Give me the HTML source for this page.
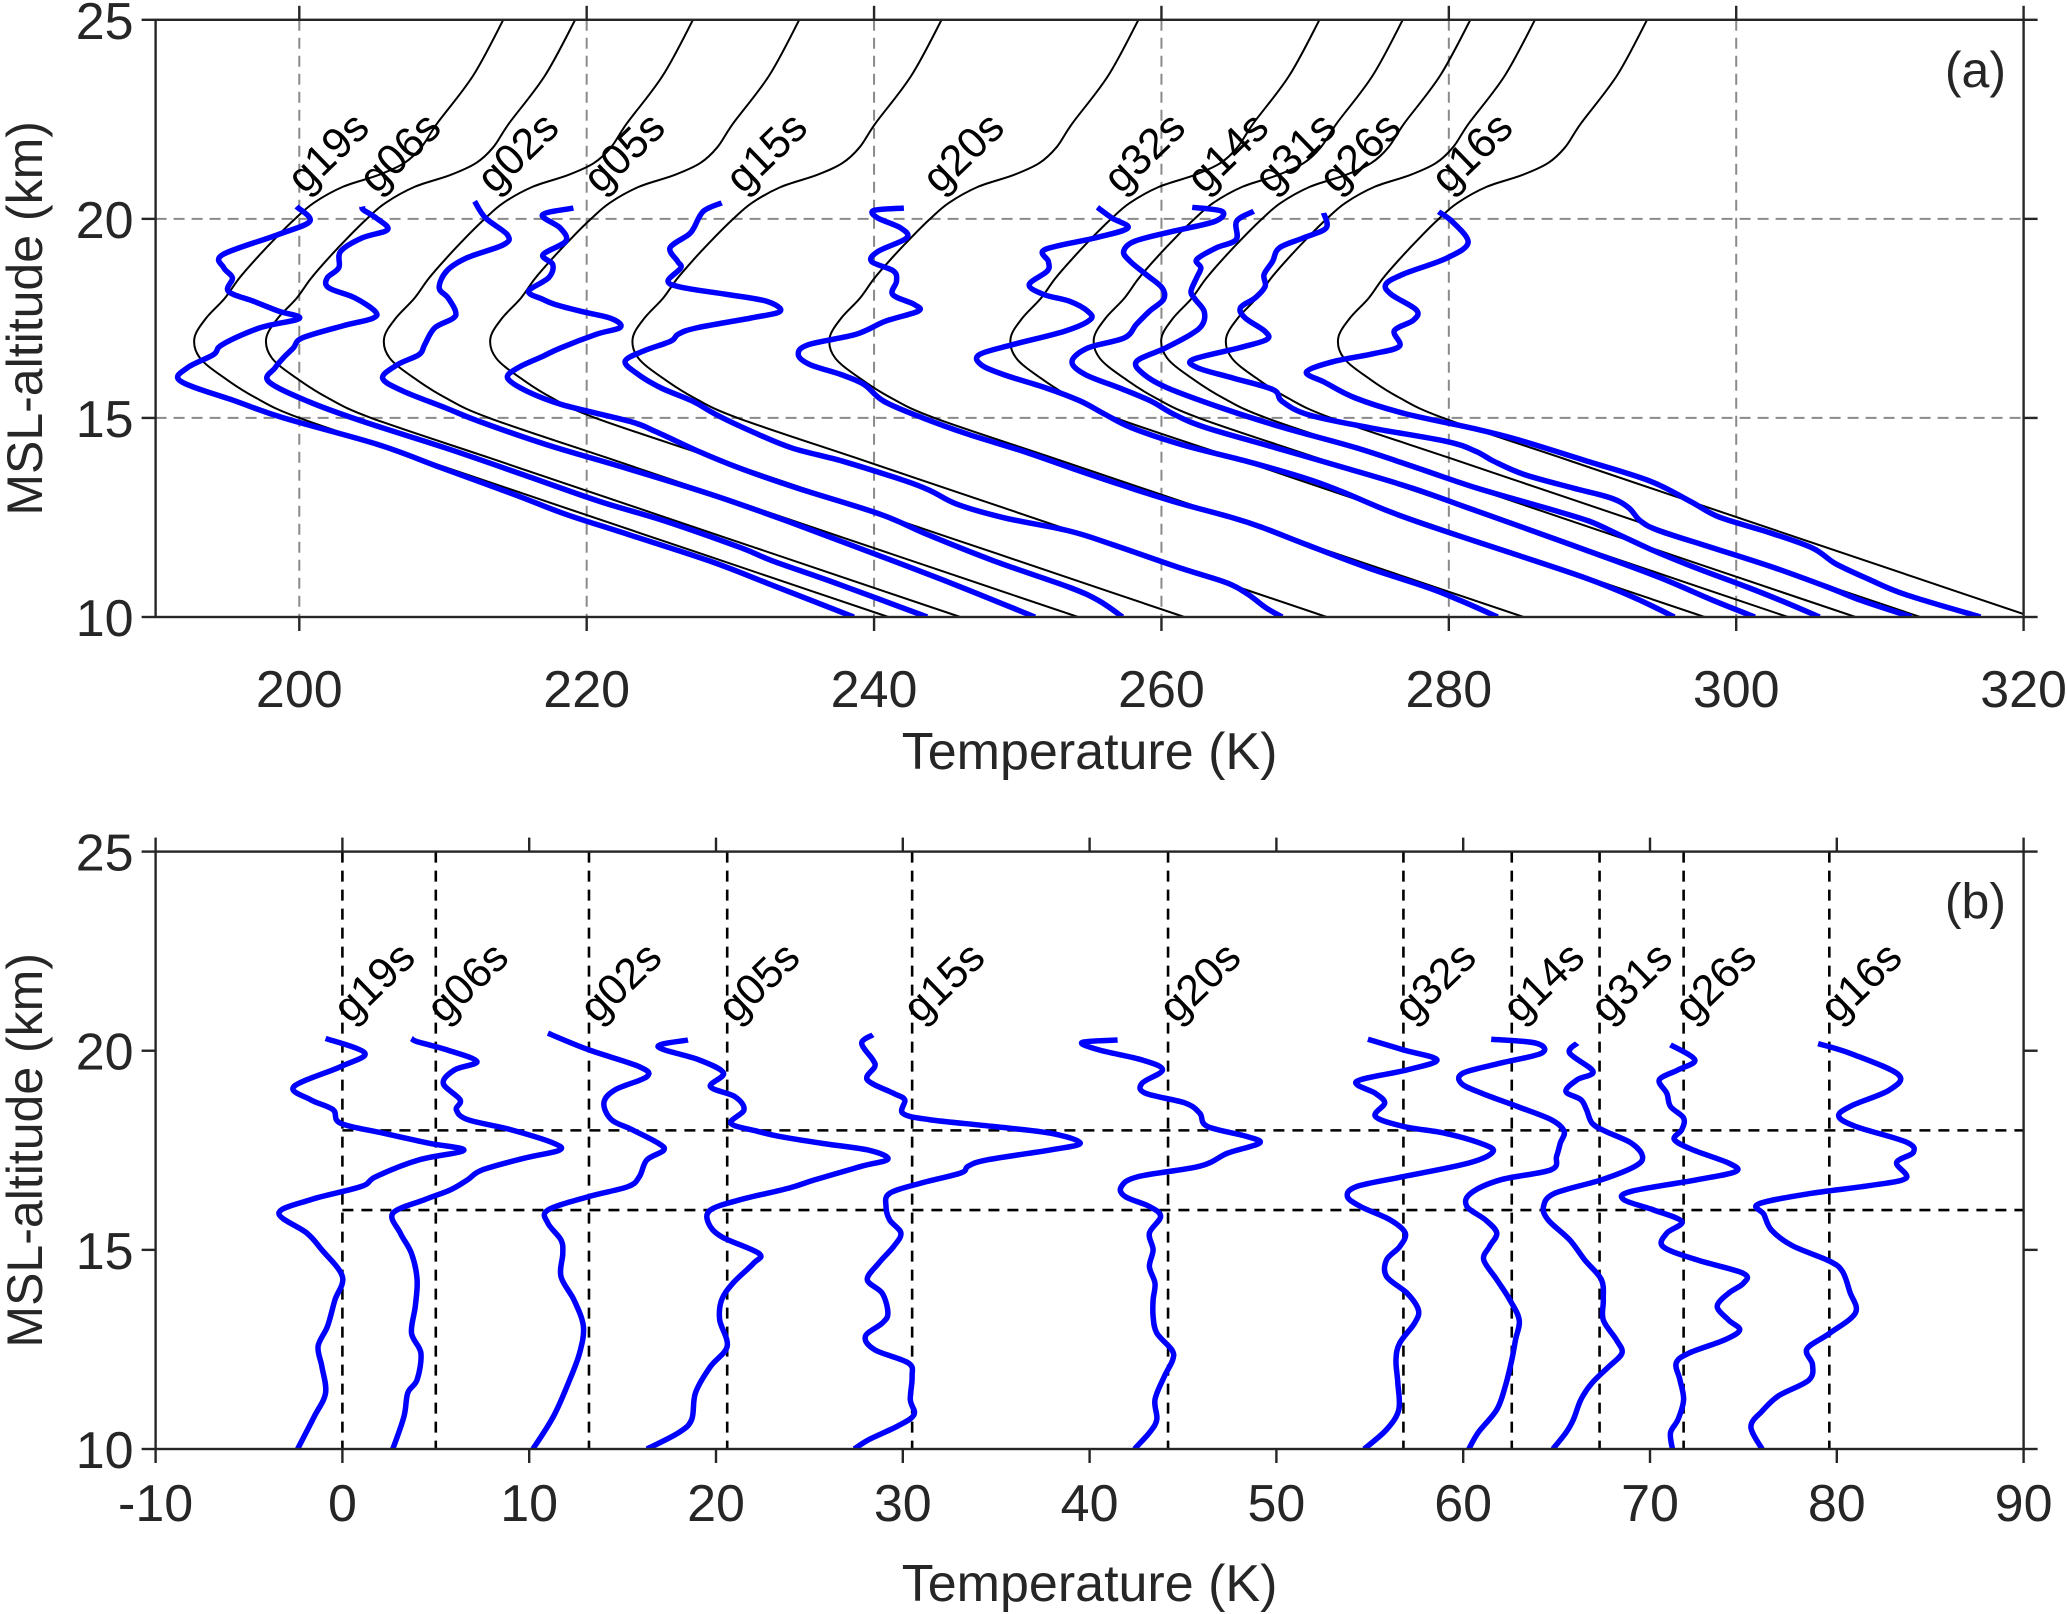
<!DOCTYPE html>
<html><head><meta charset="utf-8"><title>Temperature profiles</title>
<style>
html,body{margin:0;padding:0;background:#fff;}
svg{display:block;font-family:"Liberation Sans",Arial,sans-serif;}
</style></head>
<body>
<svg id="chart" xmlns="http://www.w3.org/2000/svg" width="2067" height="1614" viewBox="0 0 2067 1614">
<rect x="0" y="0" width="2067" height="1614" fill="#fff"/>
<defs>
<clipPath id="clipA"><rect x="155.6" y="19.8" width="1868" height="597.2"/></clipPath>
<clipPath id="clipB"><rect x="155.6" y="851.6" width="1868" height="597.4"/></clipPath>
</defs>
<g id="panelA"></g>
<g id="panelB"></g>
</svg>
<script>
// ---- data ----
const profileNames = ["g19s","g06s","g02s","g05s","g15s","g20s","g32s","g14s","g31s","g26s","g16s"];
const profileOffsets = [0, 5, 13.2, 20.6, 30.5, 44.2, 56.8, 62.6, 67.3, 71.8, 79.6];
const baseAlt  = [10, 11, 12, 13, 14, 15, 15.5, 16, 16.5, 17, 17.5, 18, 18.5, 19, 19.5, 20, 20.4, 20.8, 21.1, 21.4, 21.8, 22.4, 23.6, 25];
const baseTemp = [241, 232.8, 224.6, 216.4, 208.2, 200, 197, 194.8, 193.1, 192.7, 193.5, 194.8, 195.8, 197, 198.3, 199.7, 201, 203, 205.5, 207.3, 208.5, 209.6, 212.1, 214.2];
const anomG19s = [[20.31,-0.9],[19.94,1.2],[19.6,-0.1],[19.1,-2.6],[18.77,-1.7],[18.52,-0.5],[18.18,-0.1],[17.93,2.2],[17.68,4.6],[17.5,6.5],[17.26,4.1],[16.84,1.8],[16.59,1.0],[16.26,-1.7],[15.92,-3.4],[15.42,-1.9],[15.0,-1.1],[14.33,0],[13.74,-0.4],[13.08,-0.8],[12.58,-1.3],[12.07,-1.1],[11.41,-0.9],[10.82,-1.5],[10.0,-2.4]];
const anomG06s = [[20.31,-1.3],[20.23,-1.0],[20.02,0.6],[19.73,2.2],[19.52,1.0],[19.18,0.4],[18.77,1.3],[18.52,1.1],[18.27,1.7],[18.02,4.0],[17.68,6.3],[17.5,6.6],[17.31,4.8],[17.01,2.5],[16.76,1.7],[16.51,0.8],[16.26,-0.6],[15.92,-2.3],[15.42,-1.9],[14.91,-1.3],[14.25,-1.0],[13.58,-1.1],[12.91,-1.3],[12.41,-0.8],[11.74,-1.0],[11.41,-1.5],[10.82,-1.7],[10.0,-2.3]];
const anomG02s = [[20.44,-2.2],[20.02,0],[19.6,2.7],[19.35,3.1],[19.02,1.4],[18.69,0.8],[18.27,1.2],[18.02,2.3],[17.68,3.7],[17.5,4.0],[17.26,3.1],[16.84,2.7],[16.59,2.1],[16.34,0],[16.0,-2.2],[15.67,-2.2],[15.25,-1.5],[14.91,-1.4],[14.33,-1.5],[13.74,-0.8],[13.08,-0.3],[12.41,-0.5],[11.66,-1.1],[10.82,-1.9],[10.0,-3.0]];
const anomG05s = [[20.27,-2.1],[20.1,-3.7],[19.77,-1.5],[19.44,-0.2],[19.1,-0.9],[18.85,0.4],[18.52,0.9],[18.18,0.2],[17.98,1.6],[17.85,2.8],[17.68,5.0],[17.5,7.6],[17.28,8.6],[17.1,7.2],[16.76,4.7],[16.55,3.3],[16.26,0.7],[16.0,-0.9],[15.67,-1.0],[15.33,-0.3],[14.91,1.7],[14.66,1.4],[14.16,0.3],[13.74,-0.3],[13.24,-0.4],[12.58,0],[12.07,-0.9],[11.41,-1.7],[10.74,-1.9],[10.41,-2.6],[10.0,-4.3]];
const anomG15s = [[20.4,-2.1],[20.19,-2.7],[19.77,-2.1],[19.6,-2.0],[19.27,-2.4],[18.93,-1.0],[18.77,-0.4],[18.43,-0.5],[18.27,0.9],[18.1,4.3],[17.93,7.4],[17.68,9.0],[17.51,7.4],[17.26,4.0],[17.1,3.0],[16.93,2.6],[16.68,0.5],[16.42,-1.2],[16.09,-1.4],[15.75,-1.2],[15.42,-0.6],[15.08,-1.0],[14.66,-1.8],[14.25,-2.4],[13.91,-1.6],[13.41,-1.3],[13.16,-1.6],[12.83,-2.5],[12.49,-2.0],[12.16,-0.2],[11.82,0],[11.24,-0.1],[10.86,0.1],[10.57,-0.8],[10.24,-2.3],[10.0,-3.1]];
const anomG20s = [[20.27,-2.7],[20.21,-4.6],[20.02,-3.7],[19.77,-1.4],[19.52,-0.3],[19.18,-1.4],[18.93,-1.2],[18.69,0.9],[18.43,1.7],[18.1,2.1],[17.85,4.2],[17.68,4.9],[17.43,3.2],[17.1,1.7],[16.84,-1.6],[16.59,-2.5],[16.34,-2.3],[16.09,-1.0],[15.84,-0.4],[15.42,-1.0],[15.0,-0.8],[14.58,-1.0],[14.16,-0.7],[13.74,-0.8],[13.33,-0.8],[12.91,-0.6],[12.49,0.2],[12.24,0.25],[11.82,-0.2],[11.24,-0.7],[10.74,-0.6],[10.41,-1.0],[10.0,-1.8]];
const anomG32s = [[20.29,-1.9],[20.02,0],[19.77,1.8],[19.52,0.2],[19.23,-2.5],[18.93,-1.5],[18.69,-1.0],[18.35,-1.5],[18.1,0],[17.93,2.2],[17.68,4.1],[17.47,4.8],[17.18,3.5],[16.84,0],[16.59,-2.5],[16.34,-3.0],[16.09,-2.3],[15.75,-0.7],[15.42,0.1],[15.08,-0.2],[14.75,-0.9],[14.33,-0.9],[13.91,0.2],[13.49,0.8],[13.16,0.6],[12.66,-0.2],[12.24,-0.4],[11.66,-0.3],[10.99,-0.25],[10.49,-0.9],[10.0,-2.1]];
const anomG14s = [[20.29,-1.1],[20.19,1.3],[19.94,1.6],[19.69,-0.6],[19.44,-2.6],[19.18,-2.7],[18.93,-1.6],[18.6,0.3],[18.27,2.1],[17.98,2.8],[17.68,2.6],[17.35,2.4],[17.01,2.1],[16.76,-0.6],[16.42,-2.2],[16.09,-2.4],[15.75,-1.4],[15.42,-0.8],[15.08,-1.2],[14.75,-1.5],[14.25,-0.8],[13.74,-0.1],[13.24,0.4],[12.74,0.2],[12.24,0],[11.57,-0.35],[10.99,-0.8],[10.41,-1.8],[10.0,-2.3]];
const anomG31s = [[20.19,-1.2],[19.94,-1.6],[19.48,-0.35],[19.27,-1.2],[18.98,-1.8],[18.77,-1.0],[18.52,-0.7],[18.18,-0.4],[17.98,0.3],[17.68,1.7],[17.35,2.3],[17.1,1.9],[16.76,0.1],[16.42,-2.4],[16.09,-3.0],[15.75,-2.75],[15.25,-1.6],[14.75,-0.8],[14.25,0.1],[13.74,0.2],[13.24,0.2],[12.74,0.9],[12.41,1.2],[12.07,0.5],[11.66,-0.4],[11.24,-1.0],[10.74,-1.4],[10.41,-1.8],[10.0,-2.5]];
const anomG26s = [[20.15,-0.7],[19.77,0.6],[19.52,-0.3],[19.27,-1.3],[18.93,-0.9],[18.6,-0.7],[18.31,0],[18.02,-0.1],[17.77,-0.5],[17.51,0.5],[17.18,2.4],[16.97,2.8],[16.76,0.7],[16.47,-2.8],[16.26,-3.2],[16.0,-1.6],[15.71,-0.1],[15.42,-0.9],[15.08,-1.1],[14.75,0.7],[14.41,3.2],[14.16,3.2],[13.91,2.4],[13.58,1.8],[13.24,2.4],[12.99,3.0],[12.74,2.2],[12.41,0.3],[12.16,-0.4],[11.74,-0.2],[11.24,0],[10.74,-0.3],[10.41,-0.7],[10.0,-0.6]];
const anomG16s = [[20.18,-0.6],[19.92,1.2],[19.4,3.7],[19.01,3.2],[18.62,1.2],[18.36,0.5],[18.1,1.4],[17.71,4.1],[17.45,4.5],[17.19,3.6],[16.8,4.1],[16.61,2.1],[16.41,-1.1],[16.15,-3.8],[15.89,-3.5],[15.5,-3.1],[15.11,-2.0],[14.72,0],[14.46,0.7],[13.94,1.1],[13.42,1.4],[12.9,0],[12.51,-1.2],[12.12,-0.9],[11.73,-1.1],[11.34,-2.7],[10.95,-3.6],[10.56,-4.2],[10.0,-3.6]];
const anomalies = [anomG19s, anomG06s, anomG02s, anomG05s, anomG15s, anomG20s, anomG32s, anomG14s, anomG31s, anomG26s, anomG16s];
const xTicksA = [200, 220, 240, 260, 280, 300, 320];
const xTicksB = [-10, 0, 10, 20, 30, 40, 50, 60, 70, 80, 90];
const yTicks = [10, 15, 20, 25];
const gridXA = [200, 220, 240, 260, 280, 300];
const gridYA = [15, 20];
const gridYB = [16, 18];

// ---- layout ----
const NS = "http://www.w3.org/2000/svg";
const L = 155.6, R = 2023.6;
const A = {top: 19.8, bot: 617, xmin: 190, xmax: 320, tickOff: 90, titleOff: 152};
const B = {top: 851.6, bot: 1449, xmin: -10, xmax: 90, tickOff: 72, titleOff: 152};
function sx(p, v){ return L + (v - p.xmin) / (p.xmax - p.xmin) * (R - L); }
function sy(p, z){ return p.top + (25 - z) / 15 * (p.bot - p.top); }
function mk(parent, tag, attrs){
  const e = document.createElementNS(NS, tag);
  for (const k in attrs) e.setAttribute(k, attrs[k]);
  parent.appendChild(e); return e;
}
function baseT(z){
  if (z <= baseAlt[0]) return baseTemp[0];
  for (let i = 1; i < baseAlt.length; i++){
    if (z <= baseAlt[i]){
      const t = (z - baseAlt[i-1]) / (baseAlt[i] - baseAlt[i-1]);
      return baseTemp[i-1] + t * (baseTemp[i] - baseTemp[i-1]);
    }
  }
  return baseTemp[baseTemp.length-1];
}
function smoothPath(pts){
  let d = "M" + pts[0][0].toFixed(1) + "," + pts[0][1].toFixed(1);
  for (let i = 0; i < pts.length - 1; i++){
    const p0 = pts[Math.max(0,i-1)], p1 = pts[i], p2 = pts[i+1], p3 = pts[Math.min(pts.length-1,i+2)];
    const c1x = p1[0] + (p2[0]-p0[0])/6, c1y = p1[1] + (p2[1]-p0[1])/6;
    const c2x = p2[0] - (p3[0]-p1[0])/6, c2y = p2[1] - (p3[1]-p1[1])/6;
    d += " C" + c1x.toFixed(1) + "," + c1y.toFixed(1) + " " + c2x.toFixed(1) + "," + c2y.toFixed(1) + " " + p2[0].toFixed(1) + "," + p2[1].toFixed(1);
  }
  return d;
}
const TXT = "#262626";

function drawAxes(g, p, xticks, label){
  const box = mk(g, "rect", {x:L, y:p.top, width:R-L, height:p.bot-p.top, fill:"none", stroke:TXT, "stroke-width":2.4});
  
  
  xticks.forEach(v => {
    const x = sx(p, v);
    const t1 = mk(g, "line", {x1:x, x2:x, y1:p.bot, y2:p.bot+14, stroke:TXT, "stroke-width":2.4});
    
    
    const t2 = mk(g, "line", {x1:x, x2:x, y1:p.top, y2:p.top-14, stroke:TXT, "stroke-width":2.4});
    
    
    const tl = mk(g, "text", {x:x, y:p.bot+p.tickOff, "text-anchor":"middle", "font-size":52, fill:TXT});
    tl.textContent = String(v);
    
    
  });
  yTicks.forEach(v => {
    const y = sy(p, v);
    const t1 = mk(g, "line", {x1:L-14, x2:L, y1:y, y2:y, stroke:TXT, "stroke-width":2.4});
    
    
    const t2 = mk(g, "line", {x1:R, x2:R+14, y1:y, y2:y, stroke:TXT, "stroke-width":2.4});
    
    
    const tl = mk(g, "text", {x:L-22, y:y+19, "text-anchor":"end", "font-size":52, fill:TXT});
    tl.textContent = String(v);
    
    
  });
  const xt = mk(g, "text", {x:(L+R)/2, y:p.bot+p.titleOff, "text-anchor":"middle", "font-size":52, fill:TXT});
  xt.textContent = "Temperature (K)";
  
  
  const cy = (p.top + p.bot) / 2;
  const yt = mk(g, "text", {x:0, y:0, "text-anchor":"middle", "font-size":50, fill:TXT, transform:"translate(42,"+cy+") rotate(-90)"});
  yt.textContent = "MSL-altitude (km)";
  
  
  const pl = mk(g, "text", {x:2006, y:p.top+67, "text-anchor":"end", "font-size":50, fill:TXT});
  pl.textContent = label;
  
  
}

// ---- panel A ----
const gA = document.getElementById("panelA");
gridXA.forEach(v => {
  const l = mk(gA, "line", {x1:sx(A,v), x2:sx(A,v), y1:A.top, y2:A.bot, stroke:"#8a8a8a", "stroke-width":2, "stroke-dasharray":"11,7"});
  
  
});
gridYA.forEach(v => {
  const l = mk(gA, "line", {x1:L, x2:R, y1:sy(A,v), y2:sy(A,v), stroke:"#8a8a8a", "stroke-width":2, "stroke-dasharray":"11,7"});
  
  
});
const plotA = mk(gA, "g", {"clip-path":"url(#clipA)"});
profileNames.forEach((nm, i) => {
  const off = profileOffsets[i];
  const pts = baseAlt.map((z, j) => [sx(A, baseTemp[j] + off), sy(A, z)]);
  const bl = mk(plotA, "path", {d:smoothPath(pts), fill:"none", stroke:"#000", "stroke-width":2});
  
  
});
profileNames.forEach((nm, i) => {
  const off = profileOffsets[i];
  const pts = anomalies[i].map(d => [sx(A, baseT(d[0]) + off + d[1]), sy(A, d[0])]);
  const bl = mk(plotA, "path", {d:smoothPath(pts), fill:"none", stroke:"#0000ff", "stroke-width":5.5, "stroke-linejoin":"round"});
  
  
});
profileNames.forEach((nm, i) => {
  const x = sx(A, 199.8 + profileOffsets[i]) + 8, y = sy(A, 20.5) - 4;
  const t = mk(gA, "text", {x:0, y:0, "font-size":43, fill:"#000", transform:"translate("+x.toFixed(1)+","+y.toFixed(1)+") rotate(-44)"});
  t.textContent = nm;
  
  
});
drawAxes(gA, A, xTicksA, "(a)");

// ---- panel B ----
const gB = document.getElementById("panelB");
profileOffsets.forEach((off, i) => {
  const l = mk(gB, "line", {x1:sx(B,off), x2:sx(B,off), y1:B.top, y2:B.bot, stroke:"#000", "stroke-width":2.6, "stroke-dasharray":"11,8"});
  
  
});
gridYB.forEach(v => {
  const l = mk(gB, "line", {x1:sx(B,0), x2:R, y1:sy(B,v), y2:sy(B,v), stroke:"#000", "stroke-width":2.6, "stroke-dasharray":"11,8"});
  
  
});
const plotB = mk(gB, "g", {"clip-path":"url(#clipB)"});
profileNames.forEach((nm, i) => {
  const off = profileOffsets[i];
  const pts = anomalies[i].map(d => [sx(B, off + d[1]), sy(B, d[0])]);
  const bl = mk(plotB, "path", {d:smoothPath(pts), fill:"none", stroke:"#0000ff", "stroke-width":5.5, "stroke-linejoin":"round"});
  
  
});
profileNames.forEach((nm, i) => {
  const x = sx(B, profileOffsets[i]) + 8, y = sy(B, 20.55) - 4;
  const t = mk(gB, "text", {x:0, y:0, "font-size":43, fill:"#000", transform:"translate("+x.toFixed(1)+","+y.toFixed(1)+") rotate(-44)"});
  t.textContent = nm;
  
  
});
drawAxes(gB, B, xTicksB, "(b)");
</script>
</body></html>
